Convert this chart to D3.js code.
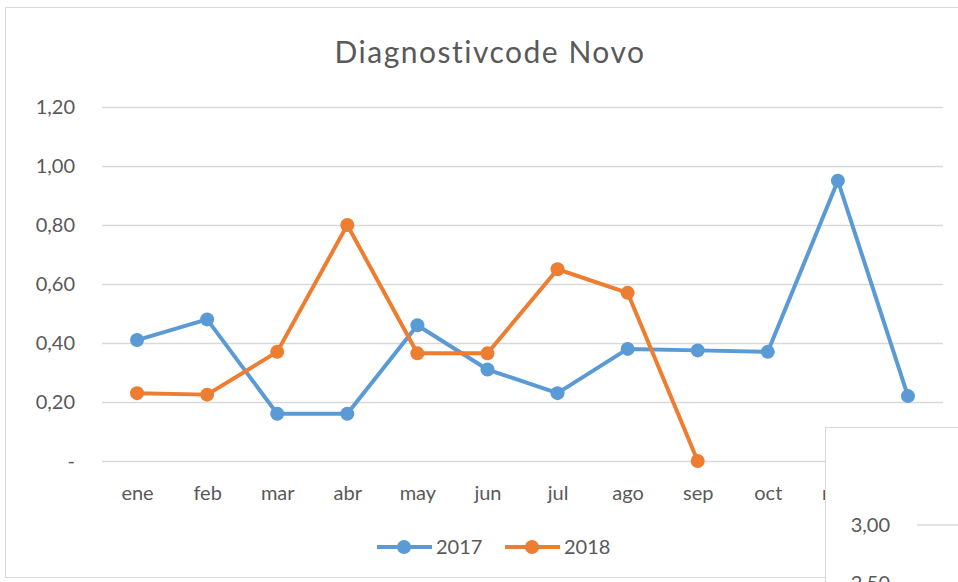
<!DOCTYPE html>
<html>
<head>
<meta charset="utf-8">
<script src="https://cdn.jsdelivr.net/npm/d3@7"></script>
<style>
  body { margin: 0; background: #fff; }
  svg text { font-family: Lato, "Open Sans", sans-serif; fill: #595959; }
</style>
</head>
<body>
<script>
var months = ['ene', 'feb', 'mar', 'abr', 'may', 'jun', 'jul', 'ago', 'sep', 'oct', 'nov', 'dic'];
var values2017 = [0.41, 0.48, 0.16, 0.16, 0.46, 0.31, 0.23, 0.38, 0.375, 0.37, 0.95, 0.22];
var values2018 = [0.23, 0.225, 0.37, 0.80, 0.365, 0.365, 0.65, 0.57, 0];
var yTicks = [0, 0.2, 0.4, 0.6, 0.8, 1.0, 1.2];
var series = [
    { name: '2017', values: values2017, color: '#5b9bd5' },
    { name: '2018', values: values2018, color: '#ed7d31' }
];

var width = 958, height = 582;
var plot = { left: 102, right: 943, top: 107, bottom: 461 };

var svg = d3.select('body').append('svg')
    .attr('width', width)
    .attr('height', height);

// chart frame
svg.append('rect')
    .attr('x', 5.5).attr('y', 7.5)
    .attr('width', 1000).attr('height', 570)
    .attr('fill', '#fff')
    .attr('stroke', '#d9d9d9');

var x = d3.scalePoint()
    .domain(months)
    .range([plot.left, plot.right])
    .padding(0.5);

var y = d3.scaleLinear()
    .domain([0, 1.2])
    .range([plot.bottom, plot.top]);

var fmt = function (d) { return d === 0 ? '-' : d3.format('.2f')(d).replace('.', ','); };

// gridlines + y labels
var yAxis = d3.axisLeft(y)
    .tickValues(yTicks)
    .tickSize(-(plot.right - plot.left))
    .tickPadding(27)
    .tickFormat(fmt);

var gy = svg.append('g')
    .attr('transform', translation(plot.left, 0))
    .call(yAxis);
gy.select('.domain').remove();
gy.selectAll('line').attr('stroke', '#d9d9d9').attr('stroke-width', 1.5);
gy.selectAll('text')
    .attr('font-size', 20)
    .attr('fill', '#595959')
    .style('font-family', 'Lato, sans-serif');

// x labels
var xAxis = d3.axisBottom(x).tickSize(0).tickPadding(25);
var gx = svg.append('g')
    .attr('transform', translation(0, plot.bottom))
    .call(xAxis);
gx.select('.domain').remove();
gx.selectAll('text')
    .attr('font-size', 20)
    .attr('fill', '#595959')
    .style('font-family', 'Lato, sans-serif');

// lines
var line = d3.line()
    .x(function (d, i) { return x(months[i]); })
    .y(function (d) { return y(d); });

series.forEach(function (s) {
    var g = svg.append('g');
    g.append('path')
        .datum(s.values)
        .attr('d', line)
        .attr('fill', 'none')
        .attr('stroke', s.color)
        .attr('stroke-width', 4)
        .attr('stroke-linejoin', 'round');
    g.selectAll('circle')
        .data(s.values)
        .enter().append('circle')
        .attr('cx', function (d, i) { return x(months[i]); })
        .attr('cy', function (d) { return y(d); })
        .attr('r', 7)
        .attr('fill', s.color);
});

// title
svg.append('text')
    .attr('x', 490)
    .attr('y', 63)
    .attr('text-anchor', 'middle')
    .attr('font-size', 30)
    .attr('letter-spacing', 1.5)
    .text('Diagnostivcode Novo');

// legend
var legend = svg.append('g').attr('transform', translation(377, 547));
series.forEach(function (s, i) {
    var lg = legend.append('g').attr('transform', translation(i * 128, 0));
    lg.append('line')
        .attr('x1', 0).attr('x2', 55)
        .attr('stroke', s.color).attr('stroke-width', 4);
    lg.append('circle')
        .attr('cx', 27).attr('r', 7).attr('fill', s.color);
    lg.append('text')
        .attr('x', 59).attr('y', 7)
        .attr('font-size', 20)
        .text(s.name);
});

// overlapping second chart box (bottom right)
var box = svg.append('g');
box.append('rect')
    .attr('x', 825.5).attr('y', 427.5)
    .attr('width', 200).attr('height', 200)
    .attr('fill', '#fff')
    .attr('stroke', '#d9d9d9');
box.append('line')
    .attr('x1', 917).attr('x2', 958)
    .attr('y1', 525).attr('y2', 525)
    .attr('stroke', '#d9d9d9').attr('stroke-width', 1.5);
box.append('text')
    .attr('x', 890).attr('y', 532)
    .attr('text-anchor', 'end')
    .attr('font-size', 20)
    .text('3,00');
box.append('text')
    .attr('x', 890).attr('y', 590)
    .attr('text-anchor', 'end')
    .attr('font-size', 20)
    .text('2,50');

function translation(x, y) {
    return 'translate(' + x + ',' + y + ')';
}
</script>
</body>
</html>
